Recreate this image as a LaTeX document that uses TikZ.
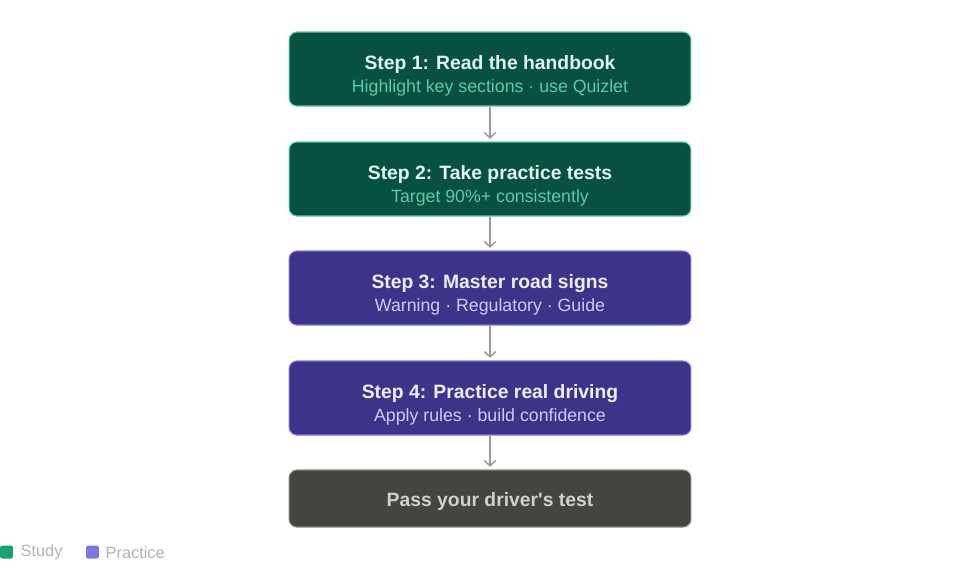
\documentclass[tikz,border=0pt]{standalone}
\usepackage{fontspec}
\setmainfont{Liberation Sans}
\usetikzlibrary{calc, arrows.meta}

\begin{document}
\begin{tikzpicture}[x=0.02cm, y=-0.02cm,
    stepBox/.style={rounded corners=4.5pt, minimum width=8.04cm, minimum height=1.48cm, line width=0.6pt},
    stepTitle/.style={anchor=base, inner sep=0pt, font=\fontsize{11}{13}\selectfont\bfseries},
    stepText/.style={anchor=base, inner sep=0pt, font=\fontsize{10.1}{12}\selectfont},
    legendSq/.style={rounded corners=1.2pt, minimum size=0.26cm, inner sep=0pt},
    legendText/.style={anchor=west, inner sep=0pt, text=legendGrey, font=\fontsize{9.3}{11}\selectfont},
    flowArrow/.style={draw=arrowGrey, line width=0.85pt, -{Straight Barb[length=3pt, width=6.5pt]}}]

    % Define colours
    \definecolor{studyFill}{HTML}{085041}
    \definecolor{studyBorder}{HTML}{5DCAA5}
    \definecolor{studyTitle}{HTML}{E1F5EE}
    \definecolor{studyText}{HTML}{5DCAA5}
    \definecolor{practiceFill}{HTML}{3C3489}
    \definecolor{practiceBorder}{HTML}{7F77DD}
    \definecolor{practiceTitle}{HTML}{EEEDFE}
    \definecolor{practiceText}{HTML}{CECBF6}
    \definecolor{goalFill}{HTML}{444441}
    \definecolor{goalBorder}{HTML}{888780}
    \definecolor{goalTitle}{HTML}{D3D1C7}
    \definecolor{arrowGrey}{HTML}{9C9A92}
    \definecolor{legendGrey}{HTML}{B4B2A9}
    \definecolor{legendStudy}{HTML}{1D9E75}
    \definecolor{legendPractice}{HTML}{7F77DD}

    % Fix the page size
    \useasboundingbox[fill=white] (0,0) rectangle (980,586);

    % Draw the step boxes
    \node[stepBox, fill=studyFill, draw=studyBorder] (s1) at (490,69) {};
    \node[stepBox, fill=studyFill, draw=studyBorder] (s2) at (490,179) {};
    \node[stepBox, fill=practiceFill, draw=practiceBorder] (s3) at (490,288) {};
    \node[stepBox, fill=practiceFill, draw=practiceBorder] (s4) at (490,398) {};
    \node[stepBox, minimum height=1.14cm, fill=goalFill, draw=goalBorder] (goal) at (490,498.5) {};

    % Write the step texts
    \node[stepTitle, text=studyTitle] (s1t) at (s1.center) {Step 1: Read the handbook};
    \node[stepText, text=studyText] (s1s) at ($(s1.center)+(0,23.5)$) {Highlight key sections · use Quizlet};
    \node[stepTitle, text=studyTitle] (s2t) at (s2.center) {Step 2: Take practice tests};
    \node[stepText, text=studyText] (s2s) at ($(s2.center)+(0,23.5)$) {Target 90\%+ consistently};
    \node[stepTitle, text=practiceTitle] (s3t) at (s3.center) {Step 3: Master road signs};
    \node[stepText, text=practiceText] (s3s) at ($(s3.center)+(0,23.5)$) {Warning · Regulatory · Guide};
    \node[stepTitle, text=practiceTitle] (s4t) at (s4.center) {Step 4: Practice real driving};
    \node[stepText, text=practiceText] (s4s) at ($(s4.center)+(0,23.5)$) {Apply rules · build confidence};
    \node[stepTitle, text=goalTitle] (goalt) at ($(goal.center)+(0,8)$) {Pass your driver\textquotesingle s test};

    % Connect the steps
    \foreach \a/\b in {s1/s2, s2/s3, s3/s4, s4/goal}
        \draw[flowArrow] (\a.south) -- ([yshift=1.5pt]\b.north);

    % Draw the legend
    \node[legendSq, fill=legendStudy] (lgStudy) at (6.5,552) {};
    \node[legendText] (lgStudyT) at ($(lgStudy.east)+(7,0.5)$) {Study};
    \node[legendSq, fill=legendPractice] (lgPractice) at (92.5,552) {};
    \node[legendText] (lgPracticeT) at ($(lgPractice.east)+(6,0.5)$) {Practice};

\end{tikzpicture}
\end{document}
